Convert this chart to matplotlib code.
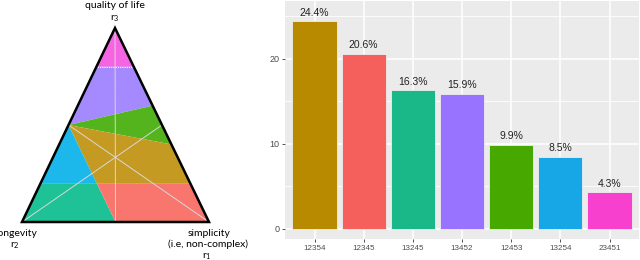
import matplotlib
matplotlib.use("Agg")
import matplotlib.pyplot as plt
from matplotlib.patches import Polygon
import numpy as np

# ---------------- data ----------------
categories = ["12354", "12345", "13245", "13452", "12453", "13254", "23451"]
percent = [24.4, 20.6, 16.3, 15.9, 9.9, 8.5, 4.3]
bar_colors = ["#B88A00", "#F5605C", "#1AB888", "#9773FF", "#47A800", "#17A6E6", "#F840CF"]
yticks = [0, 10, 20]

# ternary regions: list of (r1, r2, r3) vertices
tern_regions = {
    "pink":   [(0.2, 0.0, 0.8), (0.0, 0.2, 0.8), (0.0, 0.0, 1.0)],
    "purple": [(0.2, 0.0, 0.8), (0.0, 0.2, 0.8), (0.0, 0.5, 0.5), (0.4, 0.0, 0.6)],
    "green":  [(0.0, 0.5, 0.5), (0.4, 0.0, 0.6), (0.6, 0.0, 0.4)],
    "olive":  [(0.0, 0.5, 0.5), (0.6, 0.0, 0.4), (0.8, 0.0, 0.2), (0.3, 0.5, 0.2)],
    "blue":   [(0.0, 0.5, 0.5), (0.3, 0.5, 0.2), (0.0, 0.8, 0.2)],
    "teal":   [(0.0, 0.8, 0.2), (0.3, 0.5, 0.2), (0.5, 0.5, 0.0), (0.0, 1.0, 0.0)],
    "salmon": [(0.3, 0.5, 0.2), (0.8, 0.0, 0.2), (1.0, 0.0, 0.0), (0.5, 0.5, 0.0)],
}
region_colors = {
    "pink": "#F564E3", "purple": "#A58AFF", "green": "#53B41E", "olive": "#C49A22",
    "blue": "#1CB8EB", "teal": "#1FC296", "salmon": "#F8766D",
}

# ---------------- figure ----------------
W, H = 640, 260
fig = plt.figure(figsize=(6.4, 2.6), dpi=100)

# ---- ternary panel (pixel-like coordinates) ----
axt = fig.add_axes([0, 0, 300 / W, 1])
axt.set_xlim(0, 300)
axt.set_ylim(260, 0)
axt.axis("off")

A = np.array([115.0, 28.0])   # r3 apex
L = np.array([22.0, 222.0])   # r2
R = np.array([209.0, 222.0])  # r1


def tern(p):
    r1, r2, r3 = p
    return r1 * R + r2 * L + r3 * A


for name, verts in tern_regions.items():
    pts = np.array([tern(v) for v in verts])
    axt.add_patch(Polygon(pts, closed=True, facecolor=region_colors[name],
                          edgecolor="none", zorder=1))

# medians (light grey)
for a, b in [((0, 0, 1), (0.5, 0.5, 0)), ((0, 1, 0), (0.5, 0, 0.5)), ((1, 0, 0), (0, 0.5, 0.5))]:
    pa, pb = tern(a), tern(b)
    axt.plot([pa[0], pb[0]], [pa[1], pb[1]], color="#d8d8d8", lw=0.7, zorder=2)
# dotted boundary
pa, pb = tern((0.2, 0, 0.8)), tern((0, 0.2, 0.8))
axt.plot([pa[0], pb[0]], [pa[1], pb[1]], color="white", lw=0.8, ls=(0, (1, 1)), zorder=2)

tri = np.array([A, L, R])
axt.add_patch(Polygon(tri, closed=True, facecolor="none", edgecolor="black",
                      lw=1.8, joinstyle="miter", zorder=3))

plt.rcParams["mathtext.fontset"] = "custom"
plt.rcParams["mathtext.rm"] = "Lato"
plt.rcParams["mathtext.it"] = "Lato:italic"
fs = 7.5
axt.text(115, 6, "quality of life", ha="center", va="center", fontsize=fs, family="Lato")
axt.text(115, 19, r"$\mathrm{r}_3$", ha="center", va="center", fontsize=fs)
axt.text(16, 233, "longevity", ha="center", va="center", fontsize=fs, family="Lato")
axt.text(15, 246, r"$\mathrm{r}_2$", ha="center", va="center", fontsize=fs)
axt.text(209, 233, "simplicity", ha="center", va="center", fontsize=fs, family="Lato")
axt.text(208, 244, "(i.e, non-complex)", ha="center", va="center", fontsize=fs, family="Lato")
axt.text(207, 257, r"$\mathrm{r}_1$", ha="center", va="center", fontsize=fs)

# ---- bar chart ----
axb = fig.add_axes([285 / W, 1 - 239 / H, (639 - 285) / W, (239 - 1) / H])
x = np.arange(len(categories))
axb.set_facecolor("#EBEBEB")
axb.set_xlim(-0.6, len(categories) - 0.4)
axb.set_ylim(-1.18, 26.8)
for yv in [5, 15, 25]:
    axb.axhline(yv, color="white", lw=0.6, zorder=0)
for yv in yticks:
    axb.axhline(yv, color="white", lw=1.1, zorder=0)
for xv in x:
    axb.axvline(xv, color="white", lw=1.1, zorder=0)
axb.bar(x, percent, width=0.9, color=bar_colors, edgecolor="#EEEEEE", lw=0.6, zorder=2)
for xi, v in zip(x, percent):
    axb.annotate(f"{v}%", (xi, v), xytext=(0, 2.5), textcoords="offset points",
                 ha="center", va="bottom", fontsize=7.5, color="#222222",
                 family="Liberation Sans")
axb.set_xticks(x)
axb.set_xticklabels(categories, fontsize=5.8, color="#4D4D4D", family="Liberation Sans")
axb.set_yticks(yticks)
axb.set_yticklabels([str(t) for t in yticks], fontsize=6.5, color="#4D4D4D",
                    family="Liberation Sans")
axb.tick_params(length=2.2, width=0.6, color="#333333", pad=2)
for s in axb.spines.values():
    s.set_visible(False)

fig.savefig("out.png", dpi=100)
